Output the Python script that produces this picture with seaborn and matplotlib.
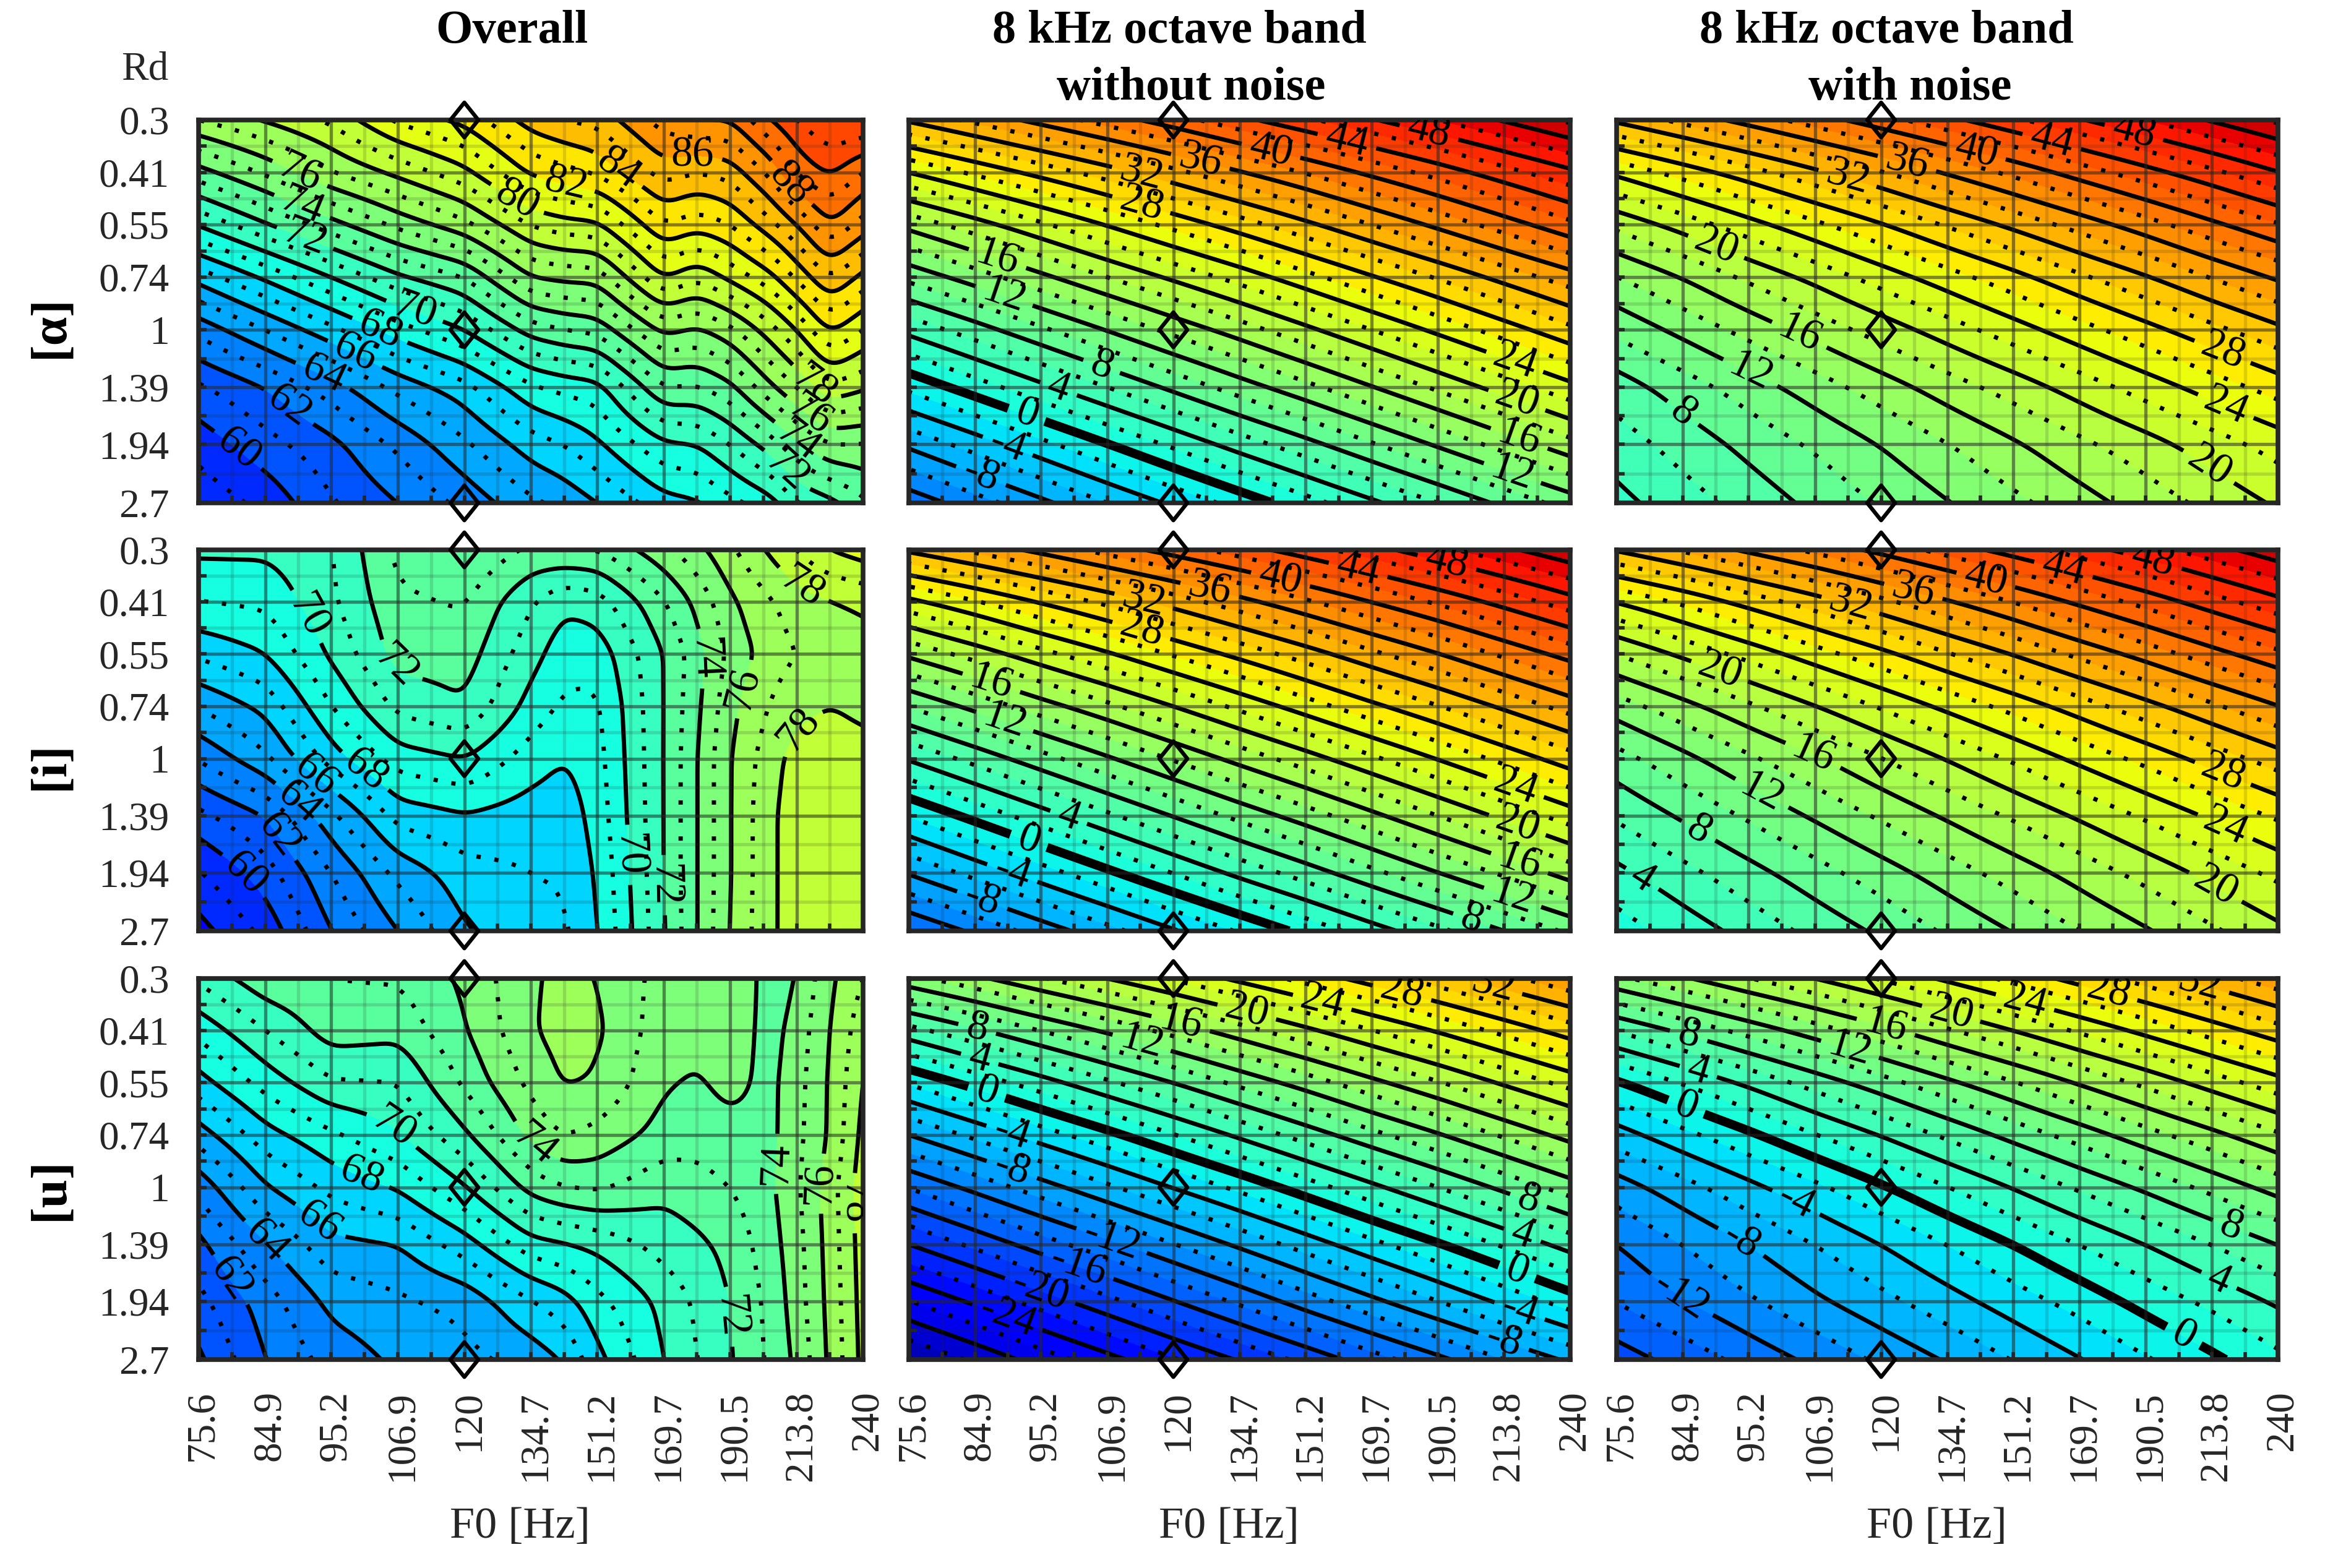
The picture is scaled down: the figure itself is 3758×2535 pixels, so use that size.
import numpy as np
import matplotlib
matplotlib.use("Agg")
import matplotlib.pyplot as plt
from matplotlib.path import Path
from matplotlib.transforms import ScaledTranslation
import seaborn as sns

sns.set_theme(style="ticks")
plt.rcParams['font.family'] = ['Liberation Serif', 'DejaVu Serif']
plt.rcParams['mathtext.fontset'] = 'stix'

W, H = 3758, 2535

# axis values
f0_ticks = [75.6, 84.9, 95.2, 106.9, 120, 134.7, 151.2, 169.7, 190.5, 213.8, 240]
f0_labels = ['75.6', '84.9', '95.2', '106.9', '120', '134.7', '151.2', '169.7', '190.5', '213.8', '240']
rd_ticks = [0.3, 0.405, 0.547, 0.739, 1, 1.39, 1.93, 2.7]
rd_labels = ['0.3', '0.41', '0.55', '0.74', '1', '1.39', '1.94', '2.7']
f0_overall = [75.6, 84.9, 95.2, 106.9, 120, 134.7, 142.7, 151.2, 169.7, 180, 190.5, 204.4, 213.8, 226.5, 240]
diamond_f0 = [120, 120, 120]
diamond_rd = [0.3, 1, 2.7]

# values in dB, rows from Rd 0.3 down to Rd 2.7
a_overall = [[77, 78.1, 79.2, 81.2, 82.3, 84.5, 85, 85.3, 87.5, 88, 88, 90, 91, 92, 92],
             [73.6, 75.2, 77, 78.3, 79.7, 82.2, 82.7, 83.2, 85.5, 85, 85.4, 87.3, 89.2, 90.2, 89],
             [70.1, 71.9, 73.6, 75.3, 76.7, 79.1, 79.6, 79.8, 83, 82.4, 83, 84.7, 86, 88, 86.6],
             [66.4, 68.2, 70, 71.8, 73, 76, 76.3, 76.4, 80.1, 79.2, 80.3, 81.7, 83.2, 85.1, 83.7],
             [63.3, 65, 66.7, 68.5, 70, 72.5, 73, 73.3, 76.3, 75.8, 76.7, 78.6, 80, 82.2, 81],
             [60.8, 62, 63.5, 65.3, 66.6, 68.8, 69.3, 69.6, 73, 72.9, 73.7, 75.8, 77, 78.8, 78.2],
             [59.4, 60.6, 61.7, 63.2, 64.8, 66.5, 67, 67.8, 69.8, 70, 71, 72.5, 73.8, 75, 74.9],
             [58.3, 59.3, 60.9, 62, 63.3, 64.8, 65.3, 66, 67.6, 67.9, 68.7, 69.6, 71, 71.7, 72.8]]
i_overall = [[70.2, 70.2, 70.9, 73.3, 74, 72.8, 72.9, 73, 74.7, 75.7, 76.8, 78.2, 79, 80, 80.5],
             [69, 69.2, 70.8, 72.8, 73.1, 71.1, 70.2, 70.5, 72.9, 74.3, 75.8, 76.9, 77.5, 77.9, 78.2],
             [67.2, 68, 70.2, 72.4, 72.5, 70.4, 69.4, 69.4, 72, 73.6, 75.3, 76.5, 77, 77.4, 77.5],
             [65.1, 66.3, 69, 71.3, 71.9, 69.6, 68.8, 68.8, 72, 73.8, 75.7, 77.1, 77.7, 78, 77.7],
             [63.1, 64.8, 67.5, 69.5, 70, 68.5, 68, 68.6, 72, 74, 76, 77.6, 78.4, 78.7, 78.5],
             [60.7, 62, 64.7, 67.4, 67.9, 67.5, 67.4, 68.4, 72, 74, 76, 77.8, 78.6, 78.9, 79],
             [58.9, 60.5, 63, 65.3, 66.6, 67, 67.1, 68.1, 72, 74, 76, 77.8, 78.6, 78.9, 79],
             [57.6, 59.3, 62, 64, 65.9, 66.7, 66.8, 67.9, 71.9, 74, 76.1, 77.8, 78.6, 78.9, 79]]
u_overall = [[71.2, 72.7, 73, 73.1, 74.2, 75.9, 76.2, 76, 74.6, 74.7, 75.1, 73.4, 74, 75.8, 77],
             [69.3, 71, 72.5, 72.3, 73.9, 75.9, 76.4, 76.2, 74.4, 74.2, 74.6, 73.6, 74.4, 76, 77.6],
             [67.6, 69.4, 70.9, 71, 73.2, 75.3, 76.1, 75.9, 74.1, 73.9, 74.3, 73.7, 74.6, 76.1, 78],
             [65.5, 67.6, 68.8, 69.9, 71.8, 74.3, 75.1, 74.7, 73.6, 73.4, 73.7, 73.7, 74.7, 76.1, 78.3],
             [63.3, 65.9, 67.3, 68.1, 69.9, 72.4, 73, 73.2, 72.3, 72.6, 73, 73.8, 74.8, 76.5, 78.6],
             [61.7, 63.9, 65.7, 66, 67.5, 69.6, 69.9, 70.3, 71.4, 71.8, 72.3, 73.6, 74.6, 76.4, 78.5],
             [60.7, 62.5, 64.3, 64.8, 65.3, 66.9, 67.6, 68.7, 70.3, 71.2, 72, 73.3, 74.5, 76.3, 78.4],
             [59.8, 62, 63.4, 64.2, 64.7, 65.4, 66.1, 67.7, 70, 71, 71.9, 73.2, 74.2, 76.2, 78.3]]

a_band = [[32.3, 34.5, 36.7, 38.9, 41.1, 43.4, 45.6, 47.8, 50, 52.2, 54.4],
          [24, 26.4, 28.7, 31, 33.4, 35.8, 38.1, 40.5, 42.8, 45.2, 47.5],
          [16.6, 19.1, 21.6, 24.1, 26.6, 29, 31.5, 34, 36.5, 39, 41.5],
          [10.6, 13, 15.5, 18, 20.4, 22.8, 25.3, 27.8, 30.2, 32.7, 35.1],
          [4.6, 7.1, 9.6, 12.1, 14.6, 17, 19.5, 22, 24.5, 27, 29.5],
          [-1.5, 1, 3.5, 6, 8.5, 11, 13.4, 15.9, 18.4, 20.9, 23.4],
          [-7.6, -5.1, -2.6, -0.1, 2.4, 4.9, 7.3, 9.8, 12.3, 14.8, 17.3],
          [-13.3, -10.9, -8.5, -6, -3.6, -1.2, 1.2, 3.6, 6, 8.5, 10.9]]
i_band = [[32.4, 34.5, 36.6, 38.8, 40.9, 43, 45.1, 47.2, 49.4, 51.5, 53.6],
          [23.3, 25.7, 28.1, 30.4, 32.8, 35.2, 37.6, 40, 42.3, 44.7, 47.1],
          [16.4, 18.8, 21.3, 23.7, 26.2, 28.6, 31, 33.5, 35.9, 38.4, 40.8],
          [10.1, 12.6, 15.1, 17.5, 20, 22.5, 25, 27.5, 29.9, 32.4, 34.9],
          [4.2, 6.7, 9.2, 11.7, 14.2, 16.7, 19.1, 21.6, 24.1, 26.6, 29.1],
          [-1.9, 0.6, 3.1, 5.6, 8.1, 10.6, 13, 15.5, 18, 20.5, 23],
          [-7.8, -5.3, -2.9, -0.4, 2.1, 4.6, 7, 9.5, 12, 14.4, 16.9],
          [-14, -11.6, -9.1, -6.7, -4.2, -1.8, 0.6, 3.1, 5.5, 8, 10.4]]
u_band = [[13.3, 15.5, 17.8, 20, 22.2, 24.5, 26.7, 28.9, 31.1, 33.4, 35.6],
          [5.2, 7.6, 10, 12.3, 14.7, 17.1, 19.5, 21.9, 24.2, 26.6, 29],
          [-1.8, 0.7, 3.1, 5.6, 8, 10.5, 12.9, 15.4, 17.8, 20.3, 22.7],
          [-8, -5.5, -3, -0.6, 1.9, 4.4, 6.9, 9.4, 11.8, 14.3, 16.8],
          [-13.9, -11.4, -8.9, -6.4, -3.9, -1.5, 1, 3.5, 6, 8.5, 11],
          [-20, -17.5, -15, -12.6, -10.1, -7.6, -5.1, -2.6, -0.2, 2.3, 4.8],
          [-26.1, -23.6, -21.1, -18.6, -16.1, -13.6, -11, -8.5, -6, -3.5, -1],
          [-32, -29.6, -27.1, -24.7, -22.2, -19.8, -17.4, -14.9, -12.5, -10, -7.6]]

a_noise = [[32.4, 34.6, 36.8, 39, 41.2, 43.4, 45.6, 47.8, 50, 52.2, 54.4],
           [24.4, 26.8, 29.1, 31.5, 33.8, 36.2, 38.5, 40.9, 43.2, 45.5, 47.9],
           [18.5, 20.8, 23.2, 25.5, 27.8, 30.2, 32.5, 34.8, 37.1, 39.5, 41.8],
           [13.9, 16.1, 18.4, 20.6, 22.9, 25.1, 27.3, 29.6, 31.8, 34.1, 36.3],
           [10.5, 12.6, 14.7, 16.8, 18.9, 21, 23.1, 25.2, 27.3, 29.4, 31.5],
           [7, 9, 11, 13, 15, 17, 18.9, 20.9, 22.9, 24.9, 26.9],
           [5, 6.8, 8.6, 10.3, 12.1, 13.9, 15.7, 17.5, 19.2, 21, 22.8],
           [3.4, 5.1, 6.8, 8.5, 10.2, 11.9, 13.5, 15.2, 16.9, 18.6, 20.3]]
i_noise = [[32.2, 34.3, 36.4, 38.5, 40.6, 42.8, 44.9, 47, 49.1, 51.2, 53.3],
           [24, 26.3, 28.7, 31, 33.4, 35.7, 38, 40.4, 42.7, 45.1, 47.4],
           [18, 20.4, 22.7, 25.1, 27.4, 29.8, 32.1, 34.5, 36.8, 39.2, 41.5],
           [13, 15.3, 17.6, 19.9, 22.2, 24.5, 26.7, 29, 31.3, 33.6, 35.9],
           [9.2, 11.4, 13.6, 15.7, 17.9, 20.1, 22.3, 24.5, 26.6, 28.8, 31],
           [6.3, 8.3, 10.3, 12.3, 14.3, 16.3, 18.3, 20.3, 22.3, 24.3, 26.3],
           [3.5, 5.4, 7.3, 9.2, 11.1, 13, 14.9, 16.8, 18.7, 20.6, 22.5],
           [1, 2.9, 4.7, 6.6, 8.4, 10.3, 12.1, 14, 15.8, 17.7, 19.5]]
u_noise = [[13.5, 15.7, 17.9, 20, 22.2, 24.4, 26.6, 28.8, 30.9, 33.1, 35.3],
           [6.1, 8.4, 10.7, 13, 15.3, 17.7, 20, 22.3, 24.6, 26.9, 29.2],
           [-0.3, 2.1, 4.4, 6.8, 9.1, 11.5, 13.8, 16.2, 18.5, 20.9, 23.2],
           [-4.9, -2.6, -0.4, 1.9, 4.1, 6.4, 8.7, 10.9, 13.2, 15.4, 17.7],
           [-9, -6.8, -4.6, -2.5, -0.3, 1.9, 4.1, 6.3, 8.4, 10.6, 12.8],
           [-12, -10, -8, -6, -4, -2, 0, 2, 4, 6, 8],
           [-13.9, -12.1, -10.3, -8.4, -6.6, -4.8, -3, -1.2, 0.7, 2.5, 4.3],
           [-17, -15.2, -13.3, -11.5, -9.6, -7.8, -5.9, -4.1, -2.2, -0.4, 1.5]]

panels = [[a_overall, a_band, a_noise],
          [i_overall, i_band, i_noise],
          [u_overall, u_band, u_noise]]

# where the contour labels sit (level, fraction across, fraction down)
spots = [[[(76, .151, .145), (74, .155, .229), (72, .160, .309), (80, .475, .220), (82, .553, .162),
           (84, .626, .140), (86, .743, .087), (88, .885, .176), (70, .324, .504), (68, .272, .552),
           (66, .233, .619), (64, .186, .672), (62, .138, .743), (60, .065, .849), (78, .915, .716),
           (76, .911, .792), (74, .889, .867), (72, .877, .929)],
          [(32, .351, .145), (28, .351, .224), (36, .440, .113), (40, .546, .091), (44, .661, .065),
           (48, .785, .043), (16, .134, .362), (12, .144, .459), (8, .292, .641), (4, .227, .699),
           (0, .179, .765), (-4, .148, .858), (-8, .110, .925), (24, .915, .637), (20, .919, .734),
           (16, .922, .836), (12, .912, .925)],
          [(32, .349, .153), (36, .438, .120), (40, .543, .091), (44, .656, .069), (48, .780, .047),
           (20, .152, .325), (16, .279, .551), (12, .208, .639), (8, .109, .745), (28, .917, .602),
           (24, .921, .748), (20, .893, .912)]],
         [[(70, .155, .183), (72, .289, .317), (74, .760, .285), (76, .820, .365), (78, .911, .089),
           (78, .898, .466), (68, .246, .590), (66, .177, .590), (64, .147, .670), (62, .121, .749),
           (60, .078, .837), (70, .652, .800), (72, .699, .880)],
          [(32, .354, .142), (28, .351, .215), (36, .454, .113), (40, .561, .084), (44, .678, .062),
           (48, .812, .044), (16, .124, .353), (12, .144, .455), (4, .241, .705), (0, .182, .760),
           (-4, .155, .855), (-8, .110, .924), (24, .915, .633), (20, .919, .727), (16, .922, .829),
           (12, .912, .916), (8, .850, .975)],
          [(32, .353, .149), (36, .448, .113), (40, .557, .087), (44, .674, .062), (48, .808, .044),
           (20, .157, .313), (16, .300, .527), (12, .226, .618), (8, .131, .716), (4, .035, .873),
           (28, .917, .585), (24, .921, .724), (20, .907, .880)]],
         [[(70, .294, .390), (68, .246, .513), (66, .186, .631), (64, .104, .687), (62, .052, .785),
           (74, .505, .436), (74, .877, .487), (76, .933, .538), (78, .976, .590), (72, .803, .887)],
          [(8, .103, .134), (4, .107, .212), (0, .117, .303), (-4, .155, .410), (-8, .155, .505),
           (12, .351, .175), (16, .410, .125), (20, .509, .101), (24, .623, .076), (28, .743, .055),
           (32, .881, .035), (-12, .306, .691), (-16, .255, .761), (-20, .196, .831), (-24, .148, .893),
           (8, .936, .587), (4, .926, .682), (0, .919, .773), (-4, .922, .880), (-8, .898, .959)],
          [(8, .109, .149), (4, .124, .241), (0, .106, .333), (12, .353, .185), (16, .406, .133),
           (20, .505, .097), (24, .616, .072), (28, .741, .051), (32, .879, .036), (-4, .272, .585),
           (-8, .191, .682), (-12, .102, .821), (8, .928, .656), (4, .910, .795), (0, .857, .938)]]]

col_x = [(321, 1395), (1469, 2538), (2613, 3682)]
row_y = [(194, 813), (889, 1505), (1582, 2198)]
jet = plt.get_cmap('jet')
DARK = '#262626'
diamond = Path([(-0.4, 0), (0, 0.5), (0.4, 0), (0, -0.5), (-0.4, 0)], closed=True)


def smooth_grid(fx, fy, z):
    # finer grid in log space so the contours come out round, not angular
    lx, ly = np.log(fx), np.log(fy)
    gx = np.linspace(lx[0], lx[-1], 301)
    gy = np.linspace(ly[0], ly[-1], 176)
    z = np.array(z, dtype=float)
    a = np.array([np.interp(gx, lx, r) for r in z])
    b = np.array([np.interp(gy, ly, c) for c in a.T]).T
    for n, axis in ((9, 1), (9, 0)):
        for _ in range(2):
            pad = [(0, 0), (0, 0)]
            pad[axis] = (n, n)
            p = np.pad(b, pad, mode='reflect', reflect_type='odd')
            p = np.apply_along_axis(lambda v: np.convolve(v, np.ones(n) / n, mode='same'), axis, p)
            b = p[n:-n, :] if axis == 0 else p[:, n:-n]
    return np.exp(gx), np.exp(gy), b


fig = plt.figure(figsize=(W / 100, H / 100), dpi=100, facecolor='white')
nudge = ScaledTranslation(7 / 100, 0, fig.dpi_scale_trans)

for r in range(3):
    for c in range(3):
        x0, x1 = col_x[c]
        y0, y1 = row_y[r]
        ax = fig.add_axes([x0 / W, 1 - y1 / H, (x1 - x0) / W, (y1 - y0) / H])
        fx = f0_overall if c == 0 else f0_ticks
        X, Y, Z = smooth_grid(fx, rd_ticks, panels[r][c])
        if c == 0:
            fill_lv = np.arange(50, 100, 2)
            solid_lv = np.arange(50, 100, 2)
            dot_lv = np.arange(51, 100, 2)
            vmin, vmax = 51, 99
        else:
            fill_lv = np.arange(-36, 61, 2)
            solid_lv = np.arange(-36, 61, 4)
            dot_lv = np.arange(-34, 61, 4)
            vmin, vmax = -36, 60
        ax.set_xscale('log')
        ax.set_yscale('log')
        ax.contourf(X, Y, Z, levels=fill_lv, cmap=jet, vmin=vmin, vmax=vmax)
        ax.contour(X, Y, Z, levels=dot_lv, colors='black', linewidths=5, linestyles=[(0, (1, 3.2))])
        ax.set_xlim(f0_ticks[0], f0_ticks[-1])
        ax.set_ylim(rd_ticks[-1], rd_ticks[0])

        # one contour set per level so a label goes onto its own line
        sets = {}
        for lev in solid_lv:
            if Z.min() < lev < Z.max():
                lw = 10.5 if (c > 0 and lev == 0) else 5
                sets[int(lev)] = ax.contour(X, Y, Z, levels=[lev], colors='black', linewidths=lw,
                                            linestyles='solid')
        fw = f0_ticks[-1] / f0_ticks[0]
        fh = rd_ticks[-1] / rd_ticks[0]
        for lev, sx, sy in spots[r][c]:
            if lev in sets:
                ax.clabel(sets[lev], fmt='%d', fontsize=50, colors='black', inline=True, inline_spacing=14,
                          manual=[(f0_ticks[0] * fw ** sx, rd_ticks[0] * fh ** sy)])

        # ticks and grid
        ax.set_xticks(f0_ticks)
        ax.set_yticks(rd_ticks)
        xm = np.sqrt(np.array(f0_ticks[:-1]) * np.array(f0_ticks[1:]))
        ym = np.sqrt(np.array(rd_ticks[:-1]) * np.array(rd_ticks[1:]))
        ax.set_xticks(xm, minor=True)
        ax.set_yticks(ym, minor=True)
        ax.set_xticklabels(f0_labels if r == 2 else [], rotation=90, fontsize=47, color=DARK)
        ax.set_yticklabels(rd_labels if c == 0 else [], fontsize=47, color=DARK)
        ax.set_xticklabels([], minor=True)
        ax.set_yticklabels([], minor=True)
        ax.tick_params(which='both', direction='in', length=9, width=4, color=DARK)
        ax.tick_params(axis='x', which='major', pad=36)
        ax.tick_params(axis='y', which='major', pad=34)
        for lb in ax.get_xticklabels():
            lb.set_transform(lb.get_transform() + nudge)
        ax.set_axisbelow(False)
        ax.grid(which='major', color=DARK, alpha=0.55, lw=3.8)
        ax.grid(which='minor', color=DARK, alpha=0.16, lw=3.8)
        for s in ax.spines.values():
            s.set_linewidth(5.5)
            s.set_color(DARK)
            s.set_visible(True)
        if r == 2:
            ax.set_xlabel('F0 [Hz]', fontsize=52, color=DARK, labelpad=30, x=0.484)

        sns.scatterplot(x=diamond_f0, y=diamond_rd, marker=diamond, s=1650, facecolor='none', edgecolor='black',
                        linewidth=4.6, clip_on=False, zorder=6, ax=ax, legend=False)
        ax.set_xlim(f0_ticks[0], f0_ticks[-1])
        ax.set_ylim(rd_ticks[-1], rd_ticks[0])

bold = dict(fontsize=55, fontweight='bold', color='black', ha='center', va='center')
fig.text(827 / W, 1 - 51 / H, 'Overall', **bold)
fig.text(1906 / W, 1 - 51 / H, '8 kHz octave band', **bold)
fig.text(1925 / W, 1 - 142 / H, 'without noise', **bold)
fig.text(3049 / W, 1 - 51 / H, '8 kHz octave band', **bold)
fig.text(3087 / W, 1 - 142 / H, 'with noise', **bold)
fig.text(234 / W, 1 - 113 / H, 'Rd', fontsize=47, color=DARK, ha='center', va='center')
for lab, yc in (('[\u03b1]', 528), ('[i]', 1238), ('[u]', 1922)):
    fig.text(82 / W, 1 - yc / H, lab, rotation=90, ha='center', va='center',
             fontsize=60, fontweight='bold', color='black')

fig.savefig('out.png', dpi=100, facecolor='white')
